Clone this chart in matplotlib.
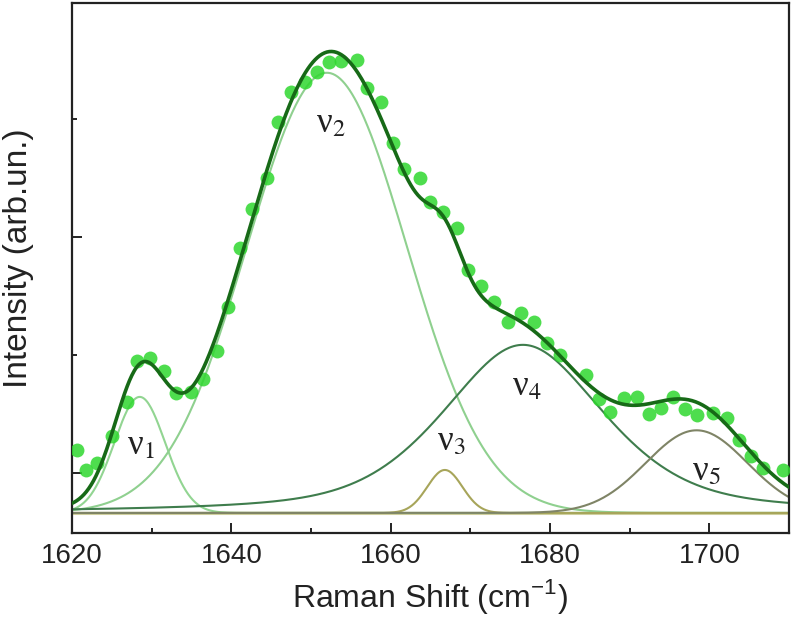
# Raman spectrum, amide I region: measured points, five-band fit and components

import numpy as np
import matplotlib
matplotlib.use("Agg")
import matplotlib.pyplot as plt
from matplotlib.ticker import FixedLocator, MultipleLocator

# %% Data

# measured spectrum
shift = [1620.6, 1621.8, 1623.1, 1625.0, 1626.9, 1628.2, 1629.8, 1631.5, 1633.1, 1634.9,
         1636.4, 1638.2, 1639.6, 1641.1, 1642.6, 1644.5, 1645.9, 1647.5, 1649.2, 1650.7,
         1652.3, 1653.8, 1655.8, 1657.0, 1658.8, 1660.3, 1661.7, 1663.7, 1664.9, 1666.6,
         1668.3, 1669.7, 1671.4, 1673.0, 1674.7, 1676.3, 1678.0, 1679.6, 1681.2, 1684.5,
         1686.1, 1687.5, 1689.3, 1690.9, 1692.4, 1693.9, 1695.4, 1697.0, 1698.5, 1700.4,
         1702.2, 1703.7, 1705.2, 1706.7, 1709.3]
intensity = [1194, 1024, 1084, 1313, 1601, 1948, 1974, 1863, 1677, 1685,
             1796, 2033, 2406, 2906, 3236, 3499, 3974, 4228, 4313, 4397,
             4482, 4491, 4499, 4262, 4143, 3796, 3575, 3499, 3296, 3211,
             3075, 2719, 2584, 2448, 2279, 2355, 2279, 2101, 1999, 1830,
             1626, 1516, 1635, 1643, 1499, 1550, 1643, 1541, 1491, 1508,
             1465, 1279, 1143, 1041, 1024]

# fitted bands (pseudo-Voigt: eta = Lorentzian fraction)
band_names = ["1", "2", "3", "4", "5"]
band_centers = [1628.5, 1652.0, 1666.8, 1676.6, 1698.4]
band_heights = [983, 3729, 364, 1424, 700]
band_fwhm = [7.5, 23.6, 5.2, 24.0, 15.0]
band_eta = [0.0, 0.0, 0.0, 0.5, 0.0]
baseline = 660

# label anchor for each band
label_x = [1628.6, 1652.5, 1667.6, 1677.1, 1699.6]
label_y = [1230, 3960, 1260, 1730, 1010]

band_colors = ["#92d592", "#8fd08f", "#a7a55a", "#3f7d4d", "#7f8466"]


def pseudo_voigt(x, x0, h, w, eta):
    sig = w / 2.3548
    gam = w / 2.0
    g = np.exp(-(x - x0) ** 2 / (2 * sig ** 2))
    l = 1.0 / (1.0 + ((x - x0) / gam) ** 2)
    return h * (eta * l + (1 - eta) * g)


# %% Plot

plt.rcParams['font.family'] = ['Liberation Sans', 'DejaVu Sans']
plt.rcParams['mathtext.fontset'] = 'custom'
plt.rcParams['mathtext.rm'] = 'Liberation Sans'

fig = plt.figure(figsize=(7.92, 6.34), dpi=100)
ax = fig.add_axes([72 / 792, 1 - 533 / 634, 717 / 792, 530 / 634])

xs = np.linspace(1620, 1710, 600)
total = np.full_like(xs, baseline, dtype=float)
comps = []
for c, h, w, e in zip(band_centers, band_heights, band_fwhm, band_eta):
    p = pseudo_voigt(xs, c, h, w, e)
    comps.append(p)
    total += p

# baseline
ax.axhline(baseline, color="#cfcf9e", lw=2.2, zorder=1)

for p, col in zip(comps, band_colors):
    ax.plot(xs, baseline + p, color=col, lw=1.5, zorder=2)

ax.plot(shift, intensity, 'o', ms=10, color="#2fd82f", alpha=0.85, mec="none", zorder=3)
ax.plot(xs, total, color="#176a17", lw=2.6, zorder=4)

for name, lx, ly in zip(band_names, label_x, label_y):
    ax.text(lx, ly, "ν$_{%s}$" % name, family='Liberation Serif', math_fontfamily='stix',
            fontsize=25, color="#222222", ha='center', va='center')

ax.set_xlim(1620, 1710)
ax.set_ylim(490, 4980)

ax.xaxis.set_major_locator(MultipleLocator(20))
ax.xaxis.set_minor_locator(MultipleLocator(10))
ax.yaxis.set_major_locator(FixedLocator([1000, 3000]))
ax.yaxis.set_minor_locator(FixedLocator([2000, 4000]))
ax.set_yticklabels([])

ax.tick_params(which='both', direction='in', width=1.4, color="#222222")
ax.tick_params(which='major', length=7)
ax.tick_params(which='minor', length=3.5)
ax.tick_params(axis='x', labelsize=20, pad=7, labelcolor="#222222")
ax.tick_params(axis='y', left=True, right=False)

for s in ax.spines.values():
    s.set_linewidth(1.6)
    s.set_color("#222222")

fig.text(430 / 792, 1 - 597 / 634, r"Raman Shift (cm$^{-1}$)", fontsize=23,
         ha='center', va='center', color="#222222")
fig.text(19 / 792, 1 - 258 / 634, "Intensity (arb.un.)", fontsize=24, rotation=90,
         ha='center', va='center', color="#222222")

fig.savefig("out.png", dpi=100)
